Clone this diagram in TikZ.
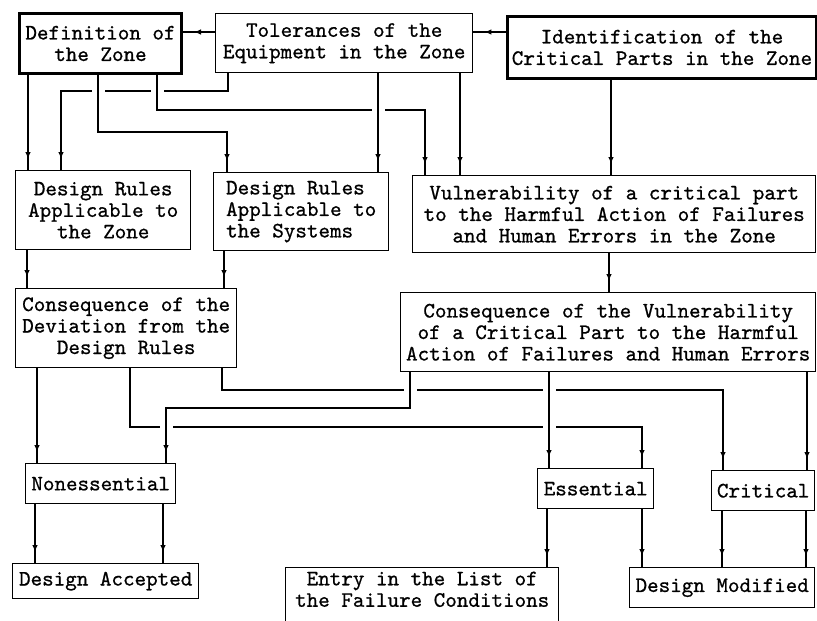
\documentclass[tikz,border=0pt]{standalone}
\usepackage{fontspec}
\newfontfamily\boxfont{lmmono10-regular.otf}[FakeBold=0.8]
\usetikzlibrary{positioning,arrows.meta,decorations.markings}

\begin{document}
\begin{tikzpicture}[x=1pt, y=-1pt,
    font=\boxfont\fontsize{22}{21.5}\selectfont,
    box/.style={draw, line width=1.4pt, anchor=north west, inner sep=0pt, align=center},
    heavy/.style={box, line width=3pt},
    flow/.style={line width=1.2pt, decoration={markings,
        mark=at position -11pt with {\arrow{Latex[length=7pt,width=5.5pt]}}}, postaction=decorate},
    hop/.style={flow, preaction={draw=white, line width=13pt, shorten <=3pt, shorten >=3pt}}]
    \useasboundingbox (0,0) rectangle (817,621);

    \node[heavy, minimum width=162pt, minimum height=60pt] (def) at (18,12) {Definition of\\the Zone};
    \node[box, minimum width=257pt, minimum height=59pt] (tol) at (215,13) {Tolerances of the\\Equipment in the Zone};
    \node[heavy, minimum width=309pt, minimum height=62pt] (ident) at (506,15) {Identification of the\\Critical Parts in the Zone};

    \node[box, minimum width=175pt, minimum height=79pt] (drz) at (15,170) {Design Rules\\Applicable to\\the Zone};
    \node[box, align=left, minimum width=175pt, minimum height=78pt] (drs) at (213,172) {Design Rules\\Applicable to\\the Systems};
    \node[box, minimum width=403pt, minimum height=77pt] (vul) at (412,175) {Vulnerability of a critical part\\to the Harmful Action of Failures\\and Human Errors in the Zone};

    \node[box, minimum width=221pt, minimum height=79pt] (dev) at (15,288) {Consequence of the\\Deviation from the\\Design Rules};
    \node[box, minimum width=415pt, minimum height=79pt] (cons) at (400,292) {Consequence of the Vulnerability\\of a Critical Part to the Harmful\\Action of Failures and Human Errors};

    \node[box, minimum width=150pt, minimum height=40pt] (non) at (25,463) {Nonessential};
    \node[box, minimum width=116pt, minimum height=40pt] (ess) at (537,468) {Essential};
    \node[box, minimum width=103pt, minimum height=40pt] (crit) at (711,470) {Critical};

    \node[box, minimum width=186pt, minimum height=35pt] (acc) at (12,563) {Design Accepted};
    \node[box, minimum width=273pt, inner ysep=4pt] (entry) at (285,567) {Entry in the List of\\the Failure Conditions\\[14pt]\strut};
    \node[box, minimum width=185pt, minimum height=40pt] (mod) at (629,567) {Design Modified};

    % top row
    \draw[flow] (tol.west |- 0,32) -- (def.east |- 0,32);
    \draw[flow] (ident.west |- 0,32) -- (tol.east |- 0,32);

    \draw[flow] (def.south -| 28,0) -- (drz.north -| 28,0);
    \draw[flow] (tol.south -| 228,0) |- (61,91) -- (drz.north -| 61,0);
    \draw[hop] (def.south -| 98,0) |- (227,132) -- (drs.north -| 227,0);
    \draw[hop] (def.south -| 157,0) |- (425,110) -- (vul.north -| 425,0);
    \draw[hop] (tol.south -| 378,0) -- (drs.north -| 378,0);
    \draw[flow] (tol.south -| 460,0) -- (vul.north -| 460,0);
    \draw[flow] (ident.south -| 611,0) -- (vul.north -| 611,0);

    \draw[flow] (drz.south -| 27,0) -- (dev.north -| 27,0);
    \draw[flow] (drs.south -| 224,0) -- (dev.north -| 224,0);
    \draw[flow] (vul.south -| 609,0) -- (cons.north -| 609,0);

    % classification
    \draw[flow] (dev.south -| 37,0) -- (non.north -| 37,0);
    \draw[flow] (dev.south -| 222,0) |- (723,390) -- (crit.north -| 723,0);
    \draw[flow] (dev.south -| 130,0) |- (642,427) -- (ess.north -| 642,0);
    \draw[hop] (cons.south -| 410,0) |- (166,408) -- (non.north -| 166,0);
    \draw[hop] (cons.south -| 549,0) -- (ess.north -| 549,0);
    \draw[flow] (cons.south -| 807,0) -- (crit.north -| 807,0);

    \draw[flow] (non.south -| 35,0) -- (acc.north -| 35,0);
    \draw[flow] (non.south -| 163,0) -- (acc.north -| 163,0);
    \draw[flow] (ess.south -| 547,0) -- (entry.north -| 547,0);
    \draw[flow] (ess.south -| 642,0) -- (mod.north -| 642,0);
    \draw[flow] (crit.south -| 722,0) -- (mod.north -| 722,0);
    \draw[flow] (crit.south -| 806,0) -- (mod.north -| 806,0);
\end{tikzpicture}
\end{document}
